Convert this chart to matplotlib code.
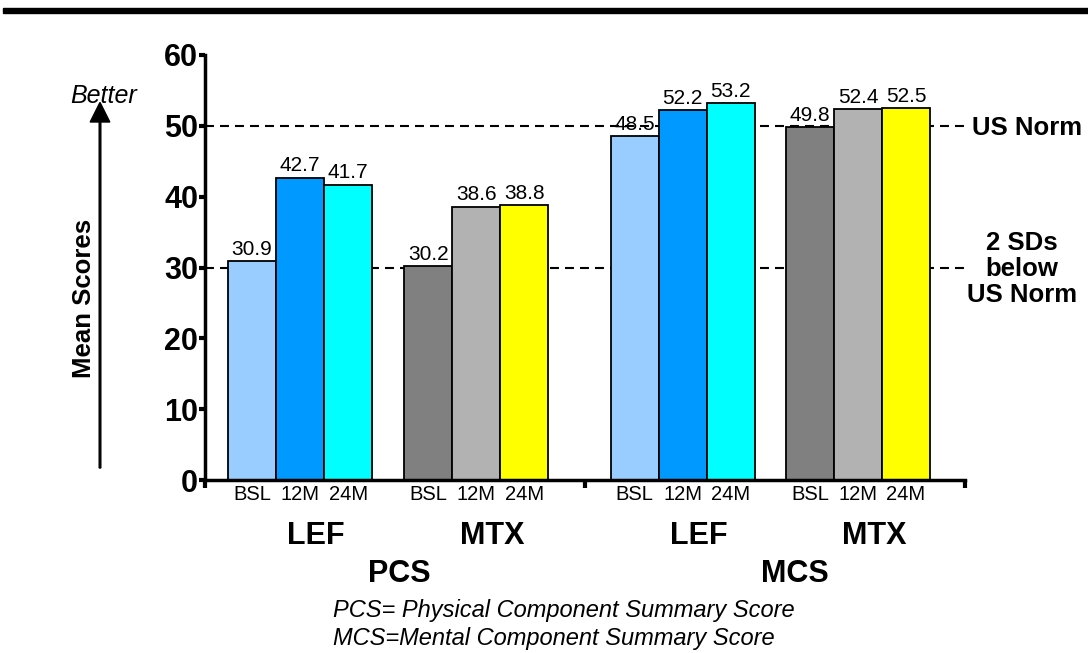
import matplotlib
matplotlib.use("Agg")
import matplotlib.pyplot as plt
import numpy as np

plt.rcParams['font.family'] = ['Liberation Sans', 'DejaVu Sans']

# data
timepoints = ['BSL', '12M', '24M']
groups = ['LEF', 'MTX', 'LEF', 'MTX']
summaries = ['PCS', 'MCS']
scores = [
    [30.9, 42.7, 41.7],   # PCS LEF
    [30.2, 38.6, 38.8],   # PCS MTX
    [48.5, 52.2, 53.2],   # MCS LEF
    [49.8, 52.4, 52.5],   # MCS MTX
]
colors = [
    ['#99CCFF', '#0099FF', '#00FFFF'],
    ['#808080', '#B2B2B2', '#FFFF00'],
    ['#99CCFF', '#0099FF', '#00FFFF'],
    ['#808080', '#B2B2B2', '#FFFF00'],
]
us_norm = 50
sd_below = 30
yticks = [0, 10, 20, 30, 40, 50, 60]

group_centers = [1.98, 5.65, 9.95, 13.6]
summary_centers = [4.04, 12.29]
bar_w = 1.0
half_edge = 7.92
x_max = 15.83

fig = plt.figure(figsize=(10.88, 6.53), dpi=100)
ax = fig.add_axes([205 / 1088, 1 - 480 / 653, 760 / 1088, 425 / 653])

for g, (cx, vals, cols) in enumerate(zip(group_centers, scores, colors)):
    xs = cx + (np.arange(3) - 1) * bar_w
    ax.bar(xs, vals, width=bar_w, color=cols, edgecolor='black', linewidth=1.3, zorder=2)
    for x, v in zip(xs, vals):
        ax.text(x, v + 0.3, f'{v:.1f}', ha='center', va='bottom', fontsize=15, zorder=3)
    for x, t in zip(xs, timepoints):
        ax.text(x, -2.1, t, ha='center', va='center', fontsize=14.5)
    ax.text(cx + 0.33, -7.9, groups[g], ha='center', va='center', fontsize=22, fontweight='bold')

for cx, s in zip(summary_centers, summaries):
    ax.text(cx, -13.3, s, ha='center', va='center', fontsize=22, fontweight='bold')

ax.axhline(us_norm, color='black', linestyle=(0, (4.3, 2.9)), linewidth=1.5, zorder=1.5)
ax.axhline(sd_below, color='black', linestyle=(0, (4.3, 2.9)), linewidth=1.5, zorder=1.5)

ax.set_xlim(0, x_max)
ax.set_ylim(0, 60)
ax.set_yticks(yticks)
ax.set_yticklabels([str(t) for t in yticks], fontsize=22, fontweight='bold')
ax.tick_params(axis='y', direction='out', length=4, width=3, pad=1)
ax.set_xticks([0, half_edge, x_max])
ax.set_xticklabels([])
ax.tick_params(axis='x', direction='out', length=6, width=3)
for side in ['top', 'right']:
    ax.spines[side].set_visible(False)
for side in ['left', 'bottom']:
    ax.spines[side].set_linewidth(2.5)

# right side annotations
fig.text(1027 / 1088, 1 - 128 / 653, 'US Norm', ha='center', va='center', fontsize=18.5, fontweight='bold')
fig.text(1022 / 1088, 1 - 269 / 653, '2 SDs\nbelow\nUS Norm', ha='center', va='center',
         fontsize=18.5, fontweight='bold', linespacing=1.1)

# left side: "Better" arrow and axis title
fig.text(104 / 1088, 1 - 96 / 653, 'Better', ha='center', va='center', fontsize=18, style='italic')
fig.add_artist(matplotlib.patches.FancyArrow(
    100 / 1088, 1 - 468 / 653, 0, (468 - 122) / 653, width=0.0015,
    head_width=0.018, head_length=0.03, length_includes_head=False,
    color='black', transform=fig.transFigure))
fig.text(84 / 1088, 1 - 298 / 653, 'Mean Scores', rotation=90, ha='center', va='center',
         fontsize=18.5, fontweight='bold')

# footnotes
fig.text(333 / 1088, 1 - 610 / 653, 'PCS= Physical Component Summary Score', ha='left',
         va='center', fontsize=17, style='italic')
fig.text(333 / 1088, 1 - 638 / 653, 'MCS=Mental Component Summary Score', ha='left',
         va='center', fontsize=17, style='italic')

# heavy rule at the top
fig.add_artist(matplotlib.patches.Rectangle((3 / 1088, 1 - 13 / 653), 1, 5 / 653,
                                            color='black', transform=fig.transFigure))

fig.savefig('out.png', dpi=100)
